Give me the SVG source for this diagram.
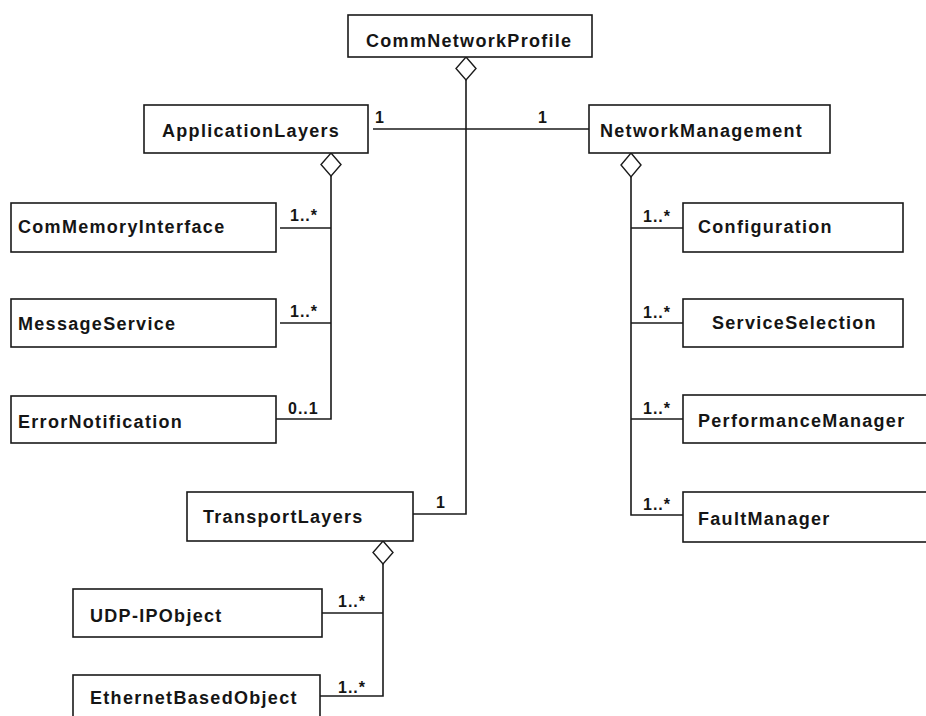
<svg xmlns="http://www.w3.org/2000/svg" width="926" height="716" viewBox="0 0 926 716">
<style>
.box{fill:#fff;stroke:#1a1a1a;stroke-width:1.6}
.name{font-family:"Liberation Sans",Arial,sans-serif;font-weight:bold;font-size:18px;letter-spacing:1.3px;fill:#151515}
.ln{fill:none;stroke:#1a1a1a;stroke-width:1.6}
.dia{fill:#fff;stroke:#1a1a1a;stroke-width:1.4}
.m{font-family:"Liberation Sans",Arial,sans-serif;font-weight:bold;font-size:16px;letter-spacing:1px;fill:#151515}
</style>
<rect width="926" height="716" fill="#fff"/>
<g id="connectors">
<polyline class="ln" points="466,80 466,514 413,514"/>
<line class="ln" x1="373" y1="129" x2="589" y2="129"/>
<polyline class="ln" points="331,176 331,419 276,419"/>
<line class="ln" x1="280" y1="228" x2="331" y2="228"/>
<line class="ln" x1="280" y1="323" x2="331" y2="323"/>
<polyline class="ln" points="631,177 631,515 683,515"/>
<line class="ln" x1="631" y1="228" x2="683" y2="228"/>
<line class="ln" x1="631" y1="323" x2="683" y2="323"/>
<line class="ln" x1="631" y1="419" x2="683" y2="419"/>
<polyline class="ln" points="383,564 383,696 320,696"/>
<line class="ln" x1="322" y1="613" x2="383" y2="613"/>
<path class="dia" d="M466,57 L476,68.5 L466,80 L456,68.5 Z"/>
<path class="dia" d="M331,153 L341,164.5 L331,176 L321,164.5 Z"/>
<path class="dia" d="M631,153 L641,165 L631,177 L621,165 Z"/>
<path class="dia" d="M383,541 L393,552.5 L383,564 L373,552.5 Z"/>
<text class="m" x="375" y="123">1</text>
<text class="m" x="538" y="123">1</text>
<text class="m" x="290" y="221">1..*</text>
<text class="m" x="290" y="317">1..*</text>
<text class="m" x="288" y="414">0..1</text>
<text class="m" x="643" y="222">1..*</text>
<text class="m" x="643" y="318">1..*</text>
<text class="m" x="643" y="414">1..*</text>
<text class="m" x="643" y="510">1..*</text>
<text class="m" x="436" y="508">1</text>
<text class="m" x="338" y="607">1..*</text>
<text class="m" x="338" y="693">1..*</text>
</g>
<g id="CommNetworkProfile"><rect class="box" x="348" y="15" width="244" height="42"/><text class="name" x="366" y="47">CommNetworkProfile</text></g>
<g id="ApplicationLayers"><rect class="box" x="144" y="105" width="224" height="48"/><text class="name" x="162" y="137">ApplicationLayers</text></g>
<g id="NetworkManagement"><rect class="box" x="589" y="105" width="241" height="48"/><text class="name" x="600" y="137">NetworkManagement</text></g>
<g id="ComMemoryInterface"><rect class="box" x="11" y="203" width="265" height="49"/><text class="name" x="18" y="233">ComMemoryInterface</text></g>
<g id="MessageService"><rect class="box" x="11" y="299" width="265" height="48"/><text class="name" x="18" y="330">MessageService</text></g>
<g id="ErrorNotification"><rect class="box" x="11" y="396" width="265" height="47"/><text class="name" x="18" y="428">ErrorNotification</text></g>
<g id="Configuration"><rect class="box" x="683" y="203" width="220" height="49"/><text class="name" x="698" y="233">Configuration</text></g>
<g id="ServiceSelection"><rect class="box" x="683" y="299" width="220" height="48"/><text class="name" x="712" y="329">ServiceSelection</text></g>
<g id="PerformanceManager"><rect class="box" x="683" y="395" width="260" height="48"/><text class="name" x="698" y="427">PerformanceManager</text></g>
<g id="FaultManager"><rect class="box" x="683" y="492" width="260" height="50"/><text class="name" x="698" y="525">FaultManager</text></g>
<g id="TransportLayers"><rect class="box" x="187" y="492" width="226" height="49"/><text class="name" x="203" y="523">TransportLayers</text></g>
<g id="UDP-IPObject"><rect class="box" x="73" y="589" width="249" height="48"/><text class="name" x="90" y="622">UDP-IPObject</text></g>
<g id="EthernetBasedObject"><rect class="box" x="73" y="675" width="247" height="60"/><text class="name" x="90" y="704">EthernetBasedObject</text></g>
</svg>
